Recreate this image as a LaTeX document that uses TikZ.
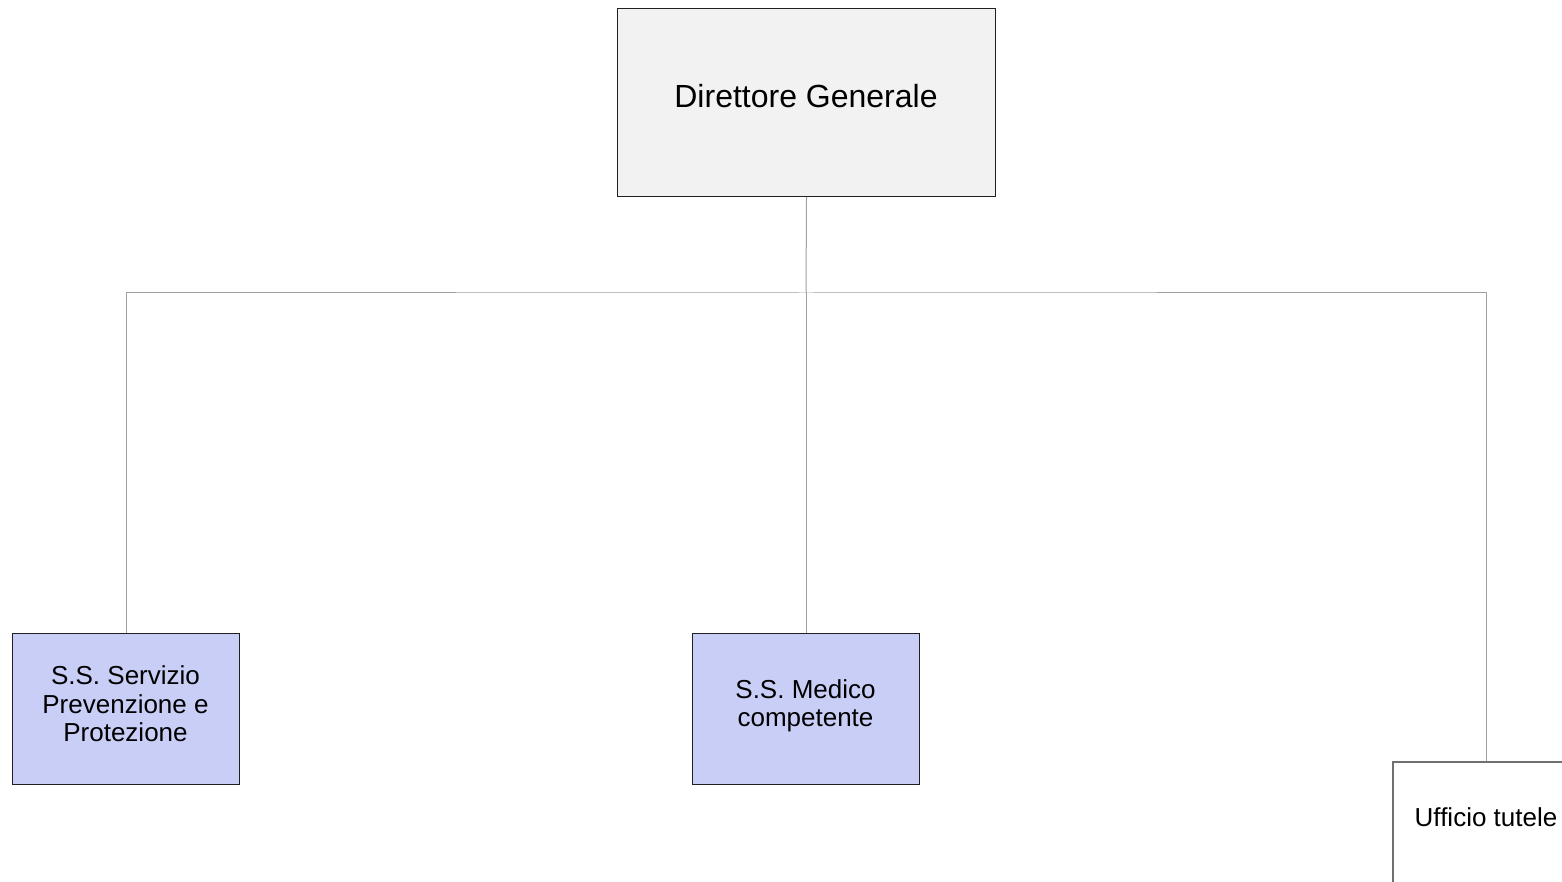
\documentclass[tikz,border=0pt]{standalone}
\usepackage{fontspec}
\setmainfont{Liberation Sans}
\definecolor{topfill}{HTML}{F2F2F2}
\definecolor{unitfill}{HTML}{C8CEF6}
\definecolor{linkgray}{HTML}{A0A0A0}
\definecolor{edgegray}{HTML}{202020}
\definecolor{openedge}{HTML}{707070}
\begin{document}
\begin{tikzpicture}[x=1pt,y=-1pt,
  boxshape/.style={draw=edgegray,line width=1pt,inner sep=0pt,anchor=north west},
  topbox/.style={boxshape,fill=topfill},
  unitbox/.style={boxshape,fill=unitfill},
  openbox/.style={draw=openedge,line width=1.5pt,fill=white,inner sep=0pt,anchor=north west},
  bigtext/.style={font=\fontsize{32}{36}\selectfont,align=center},
  smalltext/.style={font=\fontsize{26}{28.5}\selectfont,align=center},
  link/.style={draw=linkgray,line width=1pt}]
  \clip (0,0) rectangle (1562,882);
  \fill[white] (0,0) rectangle (1562,882);

  % boxes
  \node[topbox,minimum width=378pt,minimum height=188pt] (dg) at (617,8) {};
  \node[unitbox,minimum width=227pt,minimum height=151pt] (spp) at (12,633) {};
  \node[unitbox,minimum width=227pt,minimum height=151pt] (mc) at (692,633) {};
  \node[openbox,minimum width=188pt,minimum height=200pt] (ut) at (1392,761) {};

  % connectors
  \coordinate (bus) at (806,293);
  \draw[link] (dg.south) -- (bus);
  \draw[link] (spp.north) |- (bus) -| (ut.north);
  \draw[link] (bus) -- (mc.north);

  % labels
  \node[bigtext] (dgt) at (806,96) {Direttore Generale};
  \node[smalltext] (sppt) at (125.5,704) {S.S. Servizio\\Prevenzione e\\Protezione};
  \node[smalltext] (mct) at (805.5,706) {S.S. Medico\\competente};
  \node[smalltext] (utt) at (1486,817) {Ufficio tutele};
\end{tikzpicture}
\end{document}
